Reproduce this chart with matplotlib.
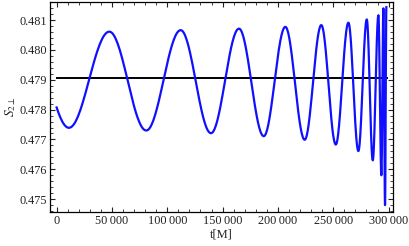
import numpy as np
import matplotlib
matplotlib.use("Agg")
import matplotlib.pyplot as plt
from matplotlib.ticker import MultipleLocator, FuncFormatter

# extrema of the S_2perp oscillation (t in M)
t_ext = [0, 11100, 47600, 81000, 112100, 139500, 164800, 187200, 206700,
         224200, 239200, 252300, 263700, 272700, 280300, 285700, 290800,
         293500, 295300, 296800, 298000]
s_ext = [0.47812, 0.47739, 0.48061, 0.47730, 0.48066, 0.47721, 0.48071,
         0.47711, 0.48077, 0.47699, 0.48083, 0.47683, 0.48091, 0.47661,
         0.48102, 0.47630, 0.48116, 0.47580, 0.48139, 0.47480, 0.48143]
s_mean = 0.47906
t_mean_end = 298300

plt.rcParams['font.family'] = ['Liberation Serif', 'DejaVu Serif']
plt.rcParams['mathtext.fontset'] = 'stix'

# smooth half-wave between neighbouring extrema
t_curve = []
s_curve = []
for i in range(len(t_ext) - 1):
    t0, t1 = t_ext[i], t_ext[i + 1]
    v0, v1 = s_ext[i], s_ext[i + 1]
    tt = np.linspace(t0, t1, 40)
    if i == 0:
        # first piece starts part way down: continue the next half-wave backwards
        half = t_ext[2] - t_ext[1]
        a = (s_ext[2] - s_ext[1]) / 2
        m = (s_ext[2] + s_ext[1]) / 2
        ss = m - a * np.cos(np.pi * (tt - t1) / half)
    else:
        u = (tt - t0) / (t1 - t0)
        ss = v0 + (v1 - v0) * (1 - np.cos(np.pi * u)) / 2
    t_curve.extend(tt[:-1])
    s_curve.extend(ss[:-1])
t_curve.append(t_ext[-1])
s_curve.append(s_ext[-1])

fig = plt.figure(figsize=(4.09, 2.46), dpi=100)
ax = fig.add_axes([50 / 409, 1 - 212 / 246, 343 / 409, 210.5 / 246])

ax.plot(t_curve, s_curve, color='#1010ff', lw=1.6, zorder=3)
ax.plot([0, t_mean_end], [s_mean, s_mean], color='black', lw=1.4, zorder=2)

ax.set_xlim(-6000, 304000)
ax.set_ylim(0.47457, 0.48162)

ax.xaxis.set_major_locator(MultipleLocator(50000))
ax.xaxis.set_minor_locator(MultipleLocator(10000))
ax.yaxis.set_major_locator(MultipleLocator(0.001))
ax.yaxis.set_minor_locator(MultipleLocator(0.0002))
ax.xaxis.set_major_formatter(FuncFormatter(lambda v, p: f"{int(round(v)):,}".replace(",", "\u2009")))
ax.yaxis.set_major_formatter(FuncFormatter(lambda v, p: f"{v:.3f}"))

ax.tick_params(which='both', direction='in', top=True, right=True,
               labelsize=8.8, colors='#222222', pad=2)
ax.tick_params(which='major', length=3.5, width=0.8)
ax.tick_params(which='minor', length=2, width=0.6)
for sp in ax.spines.values():
    sp.set_linewidth(0.9)

ax.set_xlabel('t[M]', fontsize=9, labelpad=1, color='#222222')
ax.set_ylabel(r'$S_{2\perp}$', fontsize=9.5, labelpad=1, color='#222222')

fig.savefig('out.png', dpi=100)
